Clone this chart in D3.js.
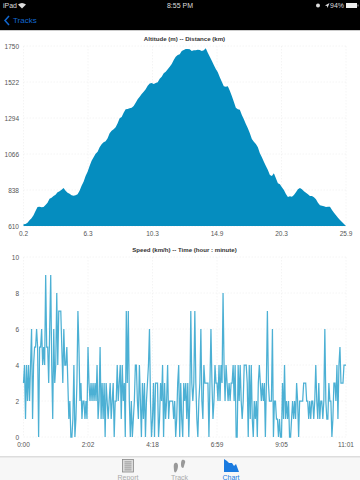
<!DOCTYPE html>
<html>
<head>
<meta charset="utf-8">
<script src="https://cdn.jsdelivr.net/npm/d3@7"></script>
<style>
  html, body { margin: 0; padding: 0; background: #fff; }
  svg { display: block; font-family: "Liberation Sans", Arial, sans-serif; }
</style>
</head>
<body>
<div id="chart"></div>
<script>
const altitudeTicks = [610, 838, 1066, 1294, 1522, 1750];
const distanceLabels = ["0.2", "6.3", "10.3", "14.9", "20.3", "25.9"];
const altitude = [
  621, 623, 631, 646, 659, 678, 705, 730, 732, 728, 730, 743, 758, 783, 789, 800, 808, 823, 830, 840,
  851, 834, 821, 815, 804, 802, 804, 811, 834, 865, 891, 927, 954, 990, 1024, 1045, 1068, 1081, 1108, 1127,
  1140, 1146, 1165, 1197, 1214, 1222, 1235, 1260, 1292, 1300, 1328, 1349, 1351, 1355, 1359, 1370, 1391, 1412, 1429, 1446,
  1461, 1476, 1499, 1513, 1516, 1509, 1516, 1520, 1543, 1556, 1577, 1587, 1602, 1619, 1636, 1661, 1682, 1693, 1697,
  1718, 1725, 1731, 1731, 1729, 1718, 1723, 1723, 1727, 1725, 1718, 1723, 1735, 1708, 1682, 1657, 1630, 1604, 1583, 1552,
  1524, 1495, 1492, 1495, 1467, 1433, 1397, 1359, 1349, 1347, 1313, 1286, 1256, 1229, 1197, 1161, 1144, 1129, 1108, 1070,
  1045, 1017, 990, 965, 933, 927, 944, 912, 880, 874, 855, 838, 813, 794, 798, 796, 806, 823, 842, 851,
  842, 830, 821, 811, 800, 800, 792, 779, 758, 741, 739, 735, 730, 732, 732, 711, 694, 678, 663, 648,
  635, 623, 610
];

const speedTicks = [0, 2, 4, 6, 8, 10];
const timeLabels = ["0:00", "2:02", "4:18", "6:59", "9:05", "11:01"];
const speed = [
  3, 4, 1, 4, 2, 4, 2, 4, 6, 1, 4, 5, 5, 6, 5, 0, 5, 5, 6, 4, 5, 4, 9, 5, 5, 3, 6, 9, 4, 1, 6, 3,
  4, 8, 4, 7, 7, 7, 5, 3, 6, 4, 4, 5, 3, 1, 2, 0, 0, 1, 4, 0, 1, 3, 7, 5, 2, 3, 1, 2, 2, 1, 2, 1, 5,
  3, 2, 3, 2, 3, 2, 3, 2, 4, 1, 2, 5, 1, 3, 1, 3, 0, 3, 2, 1, 2, 3, 1, 2, 3, 0, 2, 2, 4, 2, 3,
  4, 1, 4, 2, 3, 0, 7, 3, 7, 2, 0, 2, 0, 1, 2, 4, 4, 2, 1, 4, 2, 0, 3, 1, 3, 0, 2, 3, 4, 6, 2, 0,
  1, 3, 0, 3, 3, 3, 0, 1, 3, 2, 4, 0, 3, 1, 2, 4, 1, 2, 2, 2, 2, 1, 2, 0, 1, 3, 4, 0, 3, 1, 0, 3,
  2, 3, 1, 3, 0, 2, 7, 3, 2, 3, 7, 3, 1, 0, 2, 3, 6, 2, 1, 4, 3, 3, 3, 3, 0, 3, 6, 3, 1, 2, 4, 3,
  3, 2, 4, 2, 4, 3, 8, 4, 2, 4, 3, 2, 3, 2, 3, 3, 4, 2, 4, 0, 0, 4, 2, 4,
  2, 1, 2, 4, 4, 4, 3, 0, 4, 1, 4, 1, 0, 2, 1, 2, 0, 3, 4, 3, 2, 3, 2, 3, 0, 3, 7, 3, 2, 2, 2, 6, 0, 2, 2, 1, 1, 0, 1, 0,
  0, 3, 1, 4, 1, 2, 1, 2, 0, 0, 1, 2, 1, 2, 1, 3, 2, 0, 2, 2, 2, 2, 3, 3, 3, 2, 2, 1, 2, 1, 2, 2,
  1, 2, 4, 2, 1, 3, 1, 2, 2, 1, 2, 6, 2, 1, 1, 3, 2, 2, 0, 1, 3, 3, 2, 4, 1, 4, 5, 3, 3, 3, 4, 4, 4
];

const width = 360, height = 480;
const left = 23.5, right = 346;
const tickColor = "#555";

const svg = d3.select("#chart").append("svg")
    .attr("width", width)
    .attr("height", height);

// iOS chrome on top
svg.append("rect").attr("width", width).attr("height", 30).attr("fill", "#000");
svg.append("rect").attr("y", 30).attr("width", width).attr("height", 1).attr("fill", "#ccc");

const status = svg.append("g").attr("fill", "#ddd").attr("font-size", 7);
status.append("text").attr("x", 3).attr("y", 8).text("iPad");
status.append("text").attr("x", 180).attr("y", 8).attr("text-anchor", "middle").text("8:55 PM");
status.append("text").attr("x", 344).attr("y", 8).attr("text-anchor", "end").text("94%");
status.append("path").attr("d", "M18 4.5Q22 1.5 26 4.5L22 8.5Z");
status.append("circle").attr("cx", 318).attr("cy", 5.5).attr("r", 2);
status.append("path").attr("d", "M325 5.5L329.5 3L327.5 8L327 6Z");
status.append("rect").attr("x", 346).attr("y", 3).attr("width", 11).attr("height", 5).attr("fill", "#eee");
status.append("rect").attr("x", 357.5).attr("y", 4.5).attr("width", 1).attr("height", 2).attr("fill", "#999");

svg.append("path")
    .attr("d", "M9 16L5 20.5L9 25")
    .attr("fill", "none")
    .attr("stroke", "#1268d0")
    .attr("stroke-width", 1.5);
svg.append("text")
    .attr("x", 13).attr("y", 23)
    .attr("font-size", 8)
    .attr("fill", "#1268d0")
    .text("Tracks");

// one panel: title, dashed grid, tick labels
function panel(top, bottom, title, yDomain, yTicks, xLabels, count) {
  const x = d3.scaleLinear().domain([0, count - 1]).range([left, right]);
  const y = d3.scaleLinear().domain(yDomain).range([bottom, top]);
  const xTicks = xLabels.map((d, i) => i * (count - 1) / (xLabels.length - 1));

  const g = svg.append("g");
  g.append("text")
      .attr("x", 184.5).attr("y", top - 5)
      .attr("text-anchor", "middle")
      .attr("font-size", 6.1)
      .attr("font-weight", "bold")
      .attr("fill", "#333")
      .text(title);

  const grid = g.append("g")
      .attr("stroke", "#e8e8e8")
      .attr("stroke-width", 0.5)
      .attr("stroke-dasharray", "1.5,1.5");
  grid.selectAll(".h").data(yTicks).join("line")
      .attr("x1", left).attr("x2", right)
      .attr("y1", d => y(d)).attr("y2", d => y(d));
  grid.selectAll(".v").data(xTicks).join("line")
      .attr("x1", d => x(d)).attr("x2", d => x(d))
      .attr("y1", top).attr("y2", bottom);

  g.selectAll(".yl").data(yTicks).join("text")
      .attr("x", 19).attr("y", d => y(d) + 2.5)
      .attr("text-anchor", "end")
      .attr("font-size", 6.5)
      .attr("fill", tickColor)
      .text(d => d);
  g.selectAll(".xl").data(xTicks).join("text")
      .attr("x", d => x(d)).attr("y", bottom + 10)
      .attr("text-anchor", "middle")
      .attr("font-size", 6.5)
      .attr("fill", tickColor)
      .text((d, i) => xLabels[i]);

  return { x, y, g };
}

const alt = panel(46, 226, "Altitude (m) -- Distance (km)", [610, 1750], altitudeTicks, distanceLabels, altitude.length);
alt.g.append("path")
    .attr("fill", "#058dbf")
    .attr("d", d3.area()
        .x((d, i) => alt.x(i))
        .y0(alt.y(610))
        .y1(d => alt.y(d))(altitude));

const spd = panel(257, 437, "Speed (km/h) -- Time (hour : minute)", [0, 10], speedTicks, timeLabels, speed.length);
spd.g.append("path")
    .attr("fill", "none")
    .attr("stroke", "#1f9cc9")
    .attr("stroke-opacity", 0.8)
    .attr("stroke-width", 1.25)
    .attr("d", d3.line()
        .x((d, i) => spd.x(i))
        .y(d => spd.y(d))(speed));

// tab bar
svg.append("rect").attr("y", 457).attr("width", width).attr("height", 23).attr("fill", "#f7f7f7");
svg.append("rect").attr("y", 456.5).attr("width", width).attr("height", 0.7).attr("fill", "#bbb");

const tabs = svg.append("g").attr("font-size", 7).attr("text-anchor", "middle");
tabs.append("text").attr("x", 128).attr("y", 480).attr("fill", "#aaa").text("Report");
tabs.append("text").attr("x", 179.5).attr("y", 480).attr("fill", "#aaa").text("Track");
tabs.append("text").attr("x", 231).attr("y", 480).attr("fill", "#1a7be0").text("Chart");

// report icon
tabs.append("rect").attr("x", 122.5).attr("y", 459.5).attr("width", 11).attr("height", 12.5)
    .attr("fill", "#ddd").attr("stroke", "#888").attr("stroke-width", 0.8);
tabs.selectAll(".row").data(d3.range(5)).join("rect")
    .attr("x", 124.5).attr("y", d => 461.5 + d * 2)
    .attr("width", 7).attr("height", 0.8).attr("fill", "#888");

// footprints
tabs.append("path").attr("fill", "#999")
    .attr("d", "M175 463c2-1 3 1 3 3s-1 5-2 6-2 0-2-2-1-6 1-7ZM182 460c2-1 4 1 3 3s-1 5-2 5-2-1-2-3 0-4 1-5Z");

// chart icon
tabs.append("path").attr("fill", "#1a7be0")
    .attr("d", "M224 472V459L227 461L229 463L232 463L234 466L236 464L239 472Z");
</script>
</body>
</html>
